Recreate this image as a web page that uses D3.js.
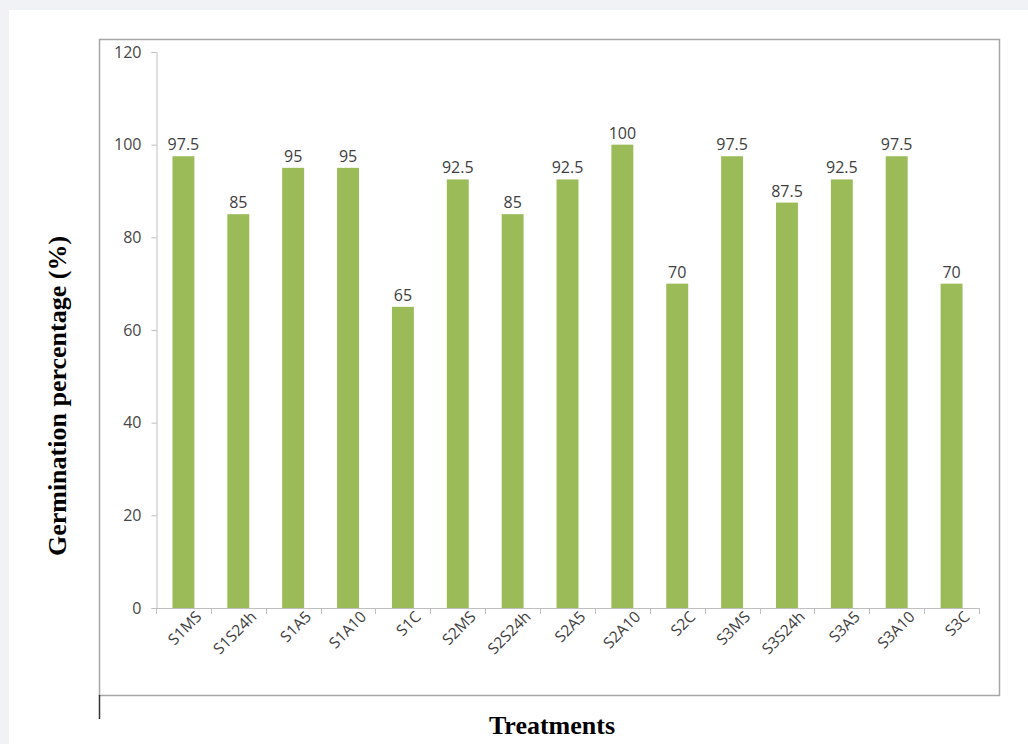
<!DOCTYPE html>
<html>
<head>
<meta charset="utf-8">
<script src="https://cdn.jsdelivr.net/npm/d3@7"></script>
<style>
  html, body { margin: 0; padding: 0; background: #f0f2f5; }
  svg { display: block; }
</style>
</head>
<body>
<svg id="chart" width="1028" height="744"></svg>
<script>
const treatments = ["S1MS", "S1S24h", "S1A5", "S1A10", "S1C", "S2MS", "S2S24h", "S2A5", "S2A10", "S2C", "S3MS", "S3S24h", "S3A5", "S3A10", "S3C"];
const germination = [97.5, 85, 95, 95, 65, 92.5, 85, 92.5, 100, 70, 97.5, 87.5, 92.5, 97.5, 70];
const yTicks = [0, 20, 40, 60, 80, 100, 120];

const svg = d3.select("#chart");

// white panel
svg.append("rect")
    .attr("x", 9).attr("y", 10)
    .attr("width", 1019).attr("height", 734)
    .attr("fill", "#fff");

// chart frame
svg.append("rect")
    .attr("x", 99.5).attr("y", 39.5)
    .attr("width", 900).attr("height", 656)
    .attr("fill", "none")
    .attr("stroke", "#a6a6a6")
    .attr("stroke-width", 1.5);

svg.append("line")
    .attr("x1", 99.5).attr("x2", 99.5)
    .attr("y1", 695).attr("y2", 719)
    .attr("stroke", "#333")
    .attr("stroke-width", 1.5);

const x = d3.scaleBand()
    .domain(treatments)
    .range([156, 979])
    .paddingInner(0.6)
    .paddingOuter(0.3);

const y = d3.scaleLinear()
    .domain([0, 120])
    .range([608, 52]);

const labelFont = "'Open Sans', sans-serif";

// y axis
const yAxis = svg.append("g")
    .attr("transform", "translate(156.5,0)")
    .call(d3.axisLeft(y).tickValues(yTicks).tickSize(5).tickPadding(10));
yAxis.select(".domain").attr("stroke", "#bfbfbf");
yAxis.selectAll(".tick line").attr("stroke", "#bfbfbf");
yAxis.selectAll("text")
    .attr("font-family", labelFont)
    .attr("font-size", 16)
    .attr("fill", "#474747");

// x axis
const xAxis = svg.append("g")
    .attr("transform", "translate(0,608.5)")
    .call(d3.axisBottom(x).tickSize(0).tickSizeOuter(0));
xAxis.select(".domain").attr("stroke", "#bfbfbf").attr("d", "M156,0H979");
xAxis.selectAll("text")
    .attr("font-family", labelFont)
    .attr("font-size", 15.5)
    .attr("fill", "#404040")
    .attr("text-anchor", "end")
    .attr("dx", "0.45em")
    .attr("dy", "1.1em")
    .attr("transform", "rotate(-45)");

// tick marks between categories
const edges = d3.range(treatments.length + 1).map(i => 156 + i * (823 / treatments.length));
svg.append("g").selectAll("line")
    .data(edges)
    .enter()
    .append("line")
    .attr("x1", d => Math.round(d) + 0.5).attr("x2", d => Math.round(d) + 0.5)
    .attr("y1", 608).attr("y2", 614)
    .attr("stroke", "#bfbfbf");

// bars
svg.append("g").selectAll("rect")
    .data(germination)
    .enter()
    .append("rect")
    .attr("x", (d, i) => x(treatments[i]))
    .attr("y", d => y(d))
    .attr("width", x.bandwidth())
    .attr("height", d => y(0) - y(d))
    .attr("fill", "#9bbb59");

// value labels
svg.append("g").selectAll("text")
    .data(germination)
    .enter()
    .append("text")
    .attr("x", (d, i) => x(treatments[i]) + x.bandwidth() / 2)
    .attr("y", d => y(d) - 6)
    .attr("text-anchor", "middle")
    .attr("font-family", labelFont)
    .attr("font-size", 16)
    .attr("fill", "#404040")
    .text(d => d);

// axis titles
svg.append("text")
    .attr("transform", "translate(66,396) rotate(-90)")
    .attr("text-anchor", "middle")
    .attr("font-family", "'Liberation Serif', 'Times New Roman', serif")
    .attr("font-weight", "bold")
    .attr("font-size", 26)
    .attr("fill", "#000")
    .text("Germination percentage (%)");

svg.append("text")
    .attr("x", 552)
    .attr("y", 734)
    .attr("text-anchor", "middle")
    .attr("font-family", "'Liberation Serif', 'Times New Roman', serif")
    .attr("font-weight", "bold")
    .attr("font-size", 26)
    .attr("fill", "#000")
    .text("Treatments");
</script>
</body>
</html>
